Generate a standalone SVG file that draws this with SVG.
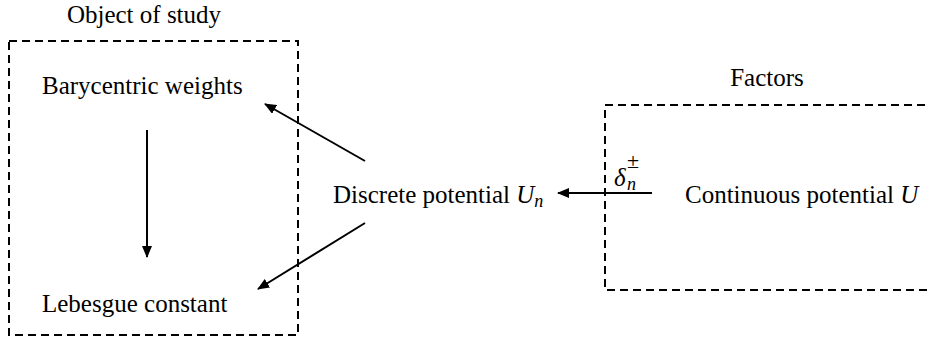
<svg xmlns="http://www.w3.org/2000/svg" width="930" height="339" viewBox="0 0 930 339">
<style>
text{font-family:"Liberation Serif","Times New Roman",serif;font-size:25px;fill:#000}
.m{font-style:italic}
.s{font-size:18px}
.box{fill:none;stroke:#000;stroke-width:2;stroke-dasharray:8 5}
.arr{fill:none;stroke:#000;stroke-width:2;marker-end:url(#ah)}
</style>
<defs>
<marker id="ah" markerUnits="userSpaceOnUse" markerWidth="12" markerHeight="10" refX="11" refY="5" orient="auto">
<path d="M0,0 L12,5 L0,10 Z" fill="#000"/>
</marker>
</defs>
<g id="object-of-study">
<rect class="box" x="9" y="41" width="289" height="294"/>
<text x="144" y="23" text-anchor="middle">Object of study</text>
</g>
<g id="factors">
<rect class="box" x="605" y="105" width="400" height="185"/>
<text x="767" y="86" text-anchor="middle">Factors</text>
</g>
<g id="barycentric">
<text x="42" y="94">Barycentric weights</text>
</g>
<g id="lebesgue">
<text x="42" y="312">Lebesgue constant</text>
</g>
<g id="discrete">
<text x="333" y="203">Discrete potential <tspan class="m">U</tspan><tspan class="m s" dy="4">n</tspan></text>
</g>
<g id="continuous">
<text x="685" y="203">Continuous potential <tspan class="m">U</tspan></text>
</g>
<g id="connectors">
<line class="arr" x1="147" y1="130" x2="147" y2="257"/>
<line class="arr" x1="365" y1="161" x2="265" y2="104"/>
<line class="arr" x1="365" y1="223" x2="258" y2="289"/>
<line class="arr" x1="652" y1="193" x2="558" y2="193"/>
<text class="m" x="614" y="186">δ</text>
<text class="m s" x="627" y="190">n</text>
<text x="627" y="168" style="font-size:22px">±</text>
</g>
</svg>
